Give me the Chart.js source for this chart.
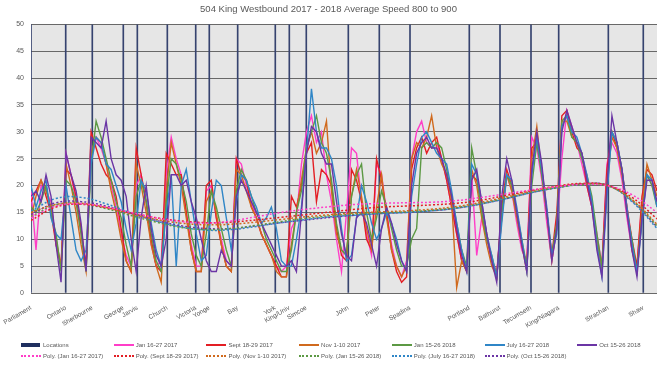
<!DOCTYPE html>
<html>
<head>
<meta charset="utf-8">
<script src="https://cdn.jsdelivr.net/npm/chart.js@4.4.1/dist/chart.umd.min.js"></script>
<style>
  body { margin: 0; background: #fff; }
  #wrap { position: relative; width: 660px; height: 365px; }
  #legend { position: absolute; left: 0; top: 340px; width: 660px; height: 24px;
            font: 6px 'Liberation Sans', sans-serif; color: #595959; }
  .item { position: absolute; display: flex; align-items: center; white-space: nowrap; height: 10px; }
  .mark { width: 20px; margin-right: 2px; }
</style>
</head>
<body>
<div id="wrap">
  <canvas id="speedChart" width="660" height="365"></canvas>
  <div id="legend"></div>
</div>
<script>
const stations = ['Parliament', 'Ontario', 'Sherbourne', 'George', 'Jarvis', 'Church', 'Victoria', 'Yonge',
    'Bay', 'York', 'King/Univ', 'Simcoe', 'John', 'Peter', 'Spadina', 'Portland', 'Bathurst', 'Tecumseth',
    'King/Niagara', 'Strachan', 'Shaw'];
// position of each stop along the sample index (0..125)
const stationPos = [0, 6.93, 12.24, 18.43, 21.23, 27.22, 32.89, 35.6, 41.27, 48.78, 51.58, 54.97,
    63.36, 69.55, 75.68, 87.52, 93.65, 99.84, 105.37, 115.28, 122.26];
const locationTop = 50;

const jan2017 = [19, 8, 20, 19, 17, 9, 5, 26, 22, 17,
    11, 5, 26, 29, 27, 24, 20, 16, 11, 7,
    5, 20, 22, 17, 9, 5, 6, 22, 29, 25,
    22, 15, 9, 5, 5, 19, 20, 14, 10, 6,
    5, 25, 24, 20, 17, 14, 11, 9, 7, 5,
    4, 5, 12, 14, 24, 30, 33, 28, 30, 22,
    17, 10, 4, 15, 27, 26, 17, 11, 7, 24,
    22, 15, 9, 5, 3, 6, 25, 30, 32, 28,
    27, 28, 25, 21, 16, 11, 6, 5, 22, 7,
    14, 10, 6, 4, 14, 22, 19, 13, 8, 6,
    29, 27, 21, 13, 6, 12, 25, 34, 31, 28,
    24, 20, 16, 11, 5, 24, 28, 26, 21, 14,
    8, 5, 17, 22, 20, 17];
const sept2017 = [17, 19, 21, 18, 15, 9, 5, 23, 22, 18,
    12, 5, 30, 27, 24, 22, 21, 18, 12, 6,
    4, 27, 22, 17, 10, 5, 4, 26, 24, 22,
    22, 15, 8, 4, 4, 20, 21, 14, 9, 5,
    4, 25, 22, 21, 16, 14, 11, 9, 7, 5,
    3, 3, 18, 16, 20, 26, 28, 17, 23, 22,
    20, 12, 7, 6, 23, 21, 17, 10, 8, 25,
    21, 15, 8, 4, 2, 3, 23, 27, 29, 26,
    28, 29, 25, 21, 16, 11, 6, 4, 22, 21,
    16, 11, 6, 3, 16, 23, 20, 15, 9, 5,
    27, 28, 23, 15, 7, 15, 33, 34, 30, 27,
    26, 20, 16, 9, 5, 23, 30, 27, 23, 16,
    10, 5, 18, 23, 22, 19];
const nov2017 = [14, 18, 21, 19, 16, 10, 5, 24, 20, 15,
    9, 4, 26, 29, 28, 24, 19, 15, 10, 6,
    4, 24, 20, 15, 9, 5, 2, 19, 28, 24,
    20, 14, 8, 4, 4, 17, 19, 15, 9, 5,
    4, 23, 22, 19, 16, 14, 11, 9, 7, 4,
    3, 3, 9, 15, 21, 27, 30, 26, 28, 32,
    19, 11, 8, 7, 18, 23, 18, 12, 8, 16,
    22, 14, 8, 5, 3, 5, 25, 28, 27, 29,
    33, 27, 24, 22, 17, 1, 6, 4, 23, 20,
    14, 9, 5, 3, 14, 22, 19, 14, 9, 4,
    25, 31, 22, 15, 6, 13, 32, 32, 29, 28,
    26, 21, 17, 10, 4, 21, 29, 27, 22, 16,
    8, 4, 16, 24, 21, 18];
const jan2018 = [16, 15, 17, 20, 15, 11, 4, 21, 20, 17,
    11, 4, 24, 32, 29, 25, 21, 17, 14, 9,
    5, 18, 21, 17, 11, 6, 4, 17, 25, 24,
    21, 17, 11, 7, 5, 11, 19, 16, 12, 8,
    5, 19, 23, 21, 18, 15, 13, 10, 8, 6,
    4, 4, 8, 15, 19, 27, 30, 33, 28, 26,
    21, 13, 8, 7, 18, 22, 24, 15, 10, 14,
    19, 16, 12, 8, 5, 5, 10, 12, 27, 28,
    27, 28, 27, 23, 18, 13, 8, 5, 27, 22,
    15, 10, 7, 3, 15, 22, 20, 15, 10, 5,
    20, 28, 22, 15, 7, 13, 32, 33, 29, 28,
    25, 22, 18, 11, 5, 19, 30, 28, 23, 15,
    10, 4, 14, 22, 20, 16];
const july2018 = [20, 16, 19, 21, 14, 11, 10, 20, 14, 8,
    6, 8, 24, 29, 28, 24, 23, 20, 17, 12,
    8, 13, 21, 19, 13, 8, 5, 15, 22, 5,
    20, 23, 17, 11, 6, 7, 15, 21, 20, 14,
    8, 17, 22, 21, 18, 16, 13, 14, 16, 12,
    6, 5, 5, 10, 16, 26, 38, 30, 27, 27,
    25, 20, 12, 6, 7, 14, 20, 17, 13, 10,
    12, 15, 13, 10, 6, 4, 18, 24, 29, 30,
    28, 26, 25, 24, 19, 13, 8, 4, 24, 22,
    17, 11, 7, 3, 13, 22, 21, 16, 10, 4,
    22, 29, 23, 16, 7, 11, 31, 33, 30, 29,
    26, 22, 17, 9, 3, 18, 30, 28, 23, 16,
    9, 4, 13, 22, 21, 16];
const oct2018 = [18, 19, 17, 22, 18, 9, 2, 26, 22, 19,
    13, 4, 29, 28, 27, 32, 25, 22, 21, 18,
    10, 4, 14, 20, 12, 7, 5, 10, 22, 22,
    20, 21, 17, 14, 10, 6, 4, 4, 8, 6,
    5, 18, 21, 19, 17, 15, 13, 11, 9, 7,
    5, 5, 6, 4, 15, 26, 31, 30, 26, 24,
    24, 17, 11, 7, 6, 14, 15, 13, 9, 5,
    12, 16, 13, 9, 6, 4, 20, 26, 28, 29,
    27, 27, 25, 22, 18, 12, 7, 4, 21, 23,
    17, 11, 6, 2, 18, 25, 21, 15, 9, 4,
    23, 30, 24, 15, 6, 12, 30, 34, 31, 28,
    26, 21, 16, 8, 3, 20, 33, 28, 23, 15,
    8, 3, 14, 21, 21, 17];

// trendline readings every 5 samples
const trendX = [0, 5, 10, 15, 20, 25, 30, 35, 40, 45, 50, 55, 60, 65, 70, 75, 80, 85, 90, 95, 100, 105, 110, 115, 120, 125];
const polyJan2017 = [14, 16.2, 16.6, 16, 15, 14, 13.3, 13, 13.4, 14.2, 15, 15.6, 16.1, 16.5, 16.7, 16.8, 16.9, 17.2, 17.8, 18.5, 19.2, 19.8, 20.2, 20, 18.3, 15];
const polySept2017 = [13.5, 16, 16.5, 15.9, 14.9, 14, 13.4, 13.1, 13.2, 13.6, 14.1, 14.6, 15.1, 15.6, 16, 16.2, 16.4, 16.7, 17.3, 18.2, 19.1, 19.9, 20.4, 20.1, 17.8, 13.8];
const polyNov2017 = [15, 16.5, 16.7, 15.9, 14.7, 13.7, 13, 12.7, 12.8, 13.2, 13.7, 14.2, 14.6, 14.9, 15.1, 15.3, 15.6, 16.1, 16.9, 17.9, 19, 19.8, 20.3, 20, 17.4, 12.8];
const polyJan2018 = [14.2, 16.4, 16.6, 15.7, 14.4, 13.2, 12.2, 11.8, 12, 12.6, 13.3, 13.9, 14.4, 14.7, 14.9, 15.1, 15.4, 15.9, 16.7, 17.7, 18.8, 19.6, 20.2, 20, 17.3, 12.5];
const polyJuly2018 = [15.2, 17.6, 17.8, 16.6, 14.9, 13.4, 12.3, 11.7, 11.8, 12.4, 13.1, 13.7, 14.2, 14.5, 14.8, 15, 15.3, 15.8, 16.6, 17.6, 18.7, 19.6, 20.2, 20.1, 17, 12];
const polyOct2018 = [14.6, 16.8, 17, 16.2, 14.8, 13.5, 12.5, 12, 12, 12.5, 13.1, 13.6, 14.1, 14.5, 14.8, 15, 15.3, 15.8, 16.6, 17.6, 18.7, 19.6, 20.3, 20.1, 17.2, 12.3];

const seriesNames = ['Jan 16-27 2017', 'Sept 18-29 2017', 'Nov 1-10 2017', 'Jan 15-26 2018', 'July 16-27 2018', 'Oct 15-26 2018'];
const seriesData = [jan2017, sept2017, nov2017, jan2018, july2018, oct2018];
const trendData = [polyJan2017, polySept2017, polyNov2017, polyJan2018, polyJuly2018, polyOct2018];
const colors = ['#ff3ec8', '#e31e24', '#d06a1e', '#5c9944', '#2f86c7', '#6b35a5'];
const navy = '#36436f';
const fontFam = "'Liberation Sans', sans-serif";

const datasets = [{
    type: 'bar',
    label: 'Locations',
    data: stationPos.map(p => ({ x: p, y: locationTop })),
    backgroundColor: navy,
    barThickness: 1,
    order: 20
}];
seriesData.forEach((vals, k) => {
    datasets.push({
        type: 'line',
        label: seriesNames[k],
        data: vals.map((v, i) => ({ x: i, y: v })),
        borderColor: colors[k],
        borderWidth: 1.4,
        pointRadius: 0,
        tension: 0,
        order: 12 - k
    });
});
trendData.forEach((vals, k) => {
    datasets.push({
        type: 'line',
        label: 'Poly. (' + seriesNames[k] + ')',
        data: vals.map((v, j) => ({ x: trendX[j], y: v })),
        borderColor: colors[k],
        borderWidth: 1.5,
        borderDash: [2, 2],
        pointRadius: 0,
        tension: 0.4,
        order: 1
    });
});

const plotBg = {
    id: 'plotBg',
    beforeDraw(chart) {
        const { ctx, chartArea: a } = chart;
        ctx.save();
        ctx.fillStyle = '#e6e6e6';
        ctx.fillRect(a.left, a.top, a.right - a.left, a.bottom - a.top);
        ctx.restore();
    }
};

const speedChart = new Chart(document.getElementById('speedChart').getContext('2d'), {
    type: 'line',
    data: { datasets: datasets },
    plugins: [plotBg],
    options: {
        responsive: false,
        animation: false,
        layout: { padding: { left: 0, right: 3, top: 0, bottom: 0 } },
        scales: {
            x: {
                type: 'linear',
                min: 0,
                max: 125,
                offset: false,
                grid: { display: false },
                border: { display: false },
                afterBuildTicks: (axis) => { axis.ticks = stationPos.map(v => ({ value: v })); },
                afterFit: (s) => { s.height = 72; },
                ticks: {
                    autoSkip: false,
                    minRotation: 30,
                    maxRotation: 30,
                    padding: 3,
                    color: '#595959',
                    font: { size: 6.5, family: fontFam },
                    callback: (value, index) => stations[index]
                }
            },
            y: {
                min: 0,
                max: 50,
                afterFit: (s) => { s.width = 31; },
                grid: { color: '#686868', lineWidth: 1, drawTicks: false },
                border: { display: false },
                ticks: {
                    stepSize: 5,
                    padding: 7,
                    color: '#595959',
                    font: { size: 7, family: fontFam }
                }
            }
        },
        plugins: {
            legend: { display: false },
            tooltip: { enabled: false },
            title: {
                display: true,
                text: '504 King Westbound 2017 - 2018 Average Speed 800 to 900',
                color: '#595959',
                font: { size: 9.5, family: fontFam, weight: 'normal' },
                padding: { top: 4, bottom: 9 }
            }
        }
    }
});

// legend in Excel's grid: 7 columns, trendlines on the second row
const legendBox = document.getElementById('legend');
function addItem(col, row, text, markCss) {
    const item = document.createElement('div');
    item.className = 'item';
    item.style.left = (21 + col * 92.7) + 'px';
    item.style.top = (row * 11) + 'px';
    const mark = document.createElement('div');
    mark.className = 'mark';
    mark.style.cssText = markCss;
    const label = document.createElement('span');
    label.textContent = text;
    item.appendChild(mark);
    item.appendChild(label);
    legendBox.appendChild(item);
}
speedChart.data.datasets.forEach((ds, i) => {
    if (ds.type === 'bar') {
        addItem(0, 0, ds.label, 'height:4px;width:19px;margin-right:3px;background:#1f2f5f');
    } else if (i <= seriesNames.length) {
        addItem(i, 0, ds.label, 'height:2px;background:' + ds.borderColor);
    } else {
        addItem(i - seriesNames.length - 1, 1, ds.label, 'height:0;border-top:2px dotted ' + ds.borderColor);
    }
});
</script>
</body>
</html>
